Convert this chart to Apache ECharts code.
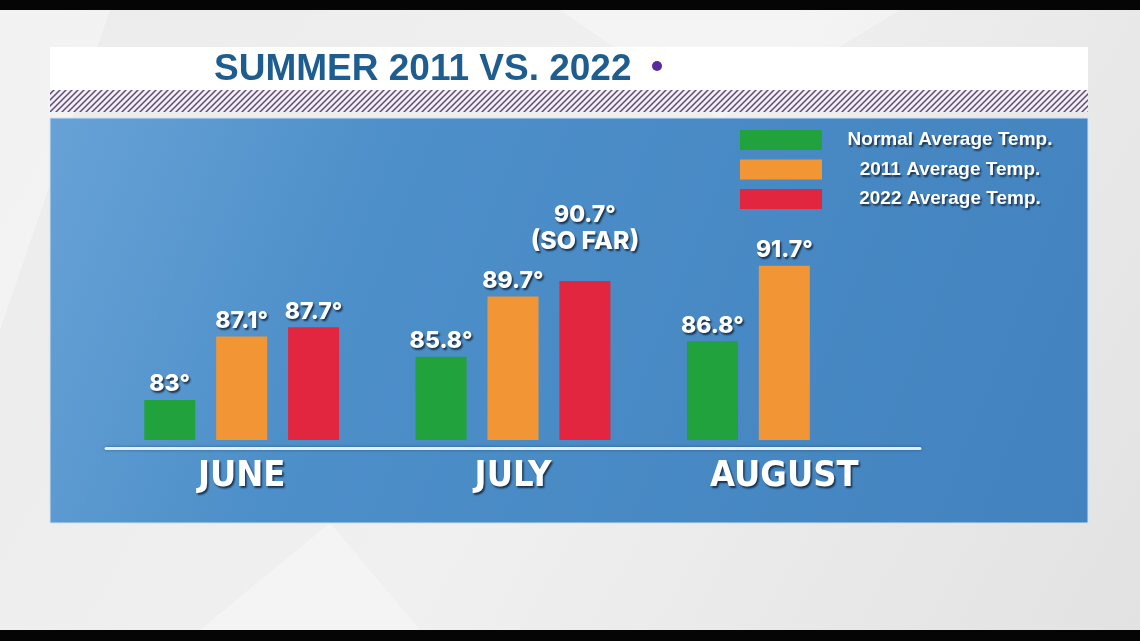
<!DOCTYPE html>
<html>
<head>
<meta charset="utf-8">
<script src="https://cdn.jsdelivr.net/npm/echarts@6/dist/echarts.min.js"></script>
<style>
html,body{margin:0;padding:0;background:#e9e9e9;}
#chart{width:1140px;height:641px;}
</style>
</head>
<body>
<div id="chart"></div>
<script>
// ---- data ----
const titleText = 'SUMMER 2011 VS. 2022';
const months = ['JUNE', 'JULY', 'AUGUST'];
const seriesNames = ['Normal Average Temp.', '2011 Average Temp.', '2022 Average Temp.'];
const normalTemp = [83, 85.8, 86.8];
const temp2011 = [87.1, 89.7, 91.7];
const temp2022 = [87.7, 90.7, null];
const notes2022 = ['', '(SO FAR)', ''];

// ---- styles ----
const colors = ['#21a23d', '#f29535', '#e3263f'];
const shadowText = {
  color: '#ffffff',
  textShadowColor: 'rgba(10,25,45,0.8)',
  textShadowBlur: 2,
  textShadowOffsetX: 1.5,
  textShadowOffsetY: 2
};

// hatch pattern
const pc = document.createElement('canvas');
pc.width = 6; pc.height = 6;
const pctx = pc.getContext('2d');
pctx.fillStyle = '#f3eef6';
pctx.fillRect(0, 0, 6, 6);
pctx.strokeStyle = '#5d4f70';
pctx.lineWidth = 1.5;
pctx.beginPath();
pctx.moveTo(-1, 7); pctx.lineTo(7, -1);
pctx.moveTo(-1, 1); pctx.lineTo(1, -1);
pctx.moveTo(5, 7); pctx.lineTo(7, 5);
pctx.stroke();

const chart = echarts.init(document.getElementById('chart'));

function labelFor(notes) {
  return function (p) {
    const n = notes ? notes[p.dataIndex] : '';
    return '{v|' + p.value + '°}' + (n ? '\n{n|' + n + '}' : '');
  };
}

function makeData(values, notes) {
  return values.map((v, i) => {
    if (notes && notes[i]) {
      return { value: v, label: { distance: 27 } };
    }
    return v;
  });
}

const fontBase = Object.assign({
  fontFamily: 'Inter',
  fontWeight: 800,
  fontSize: 23,
  lineHeight: 25
}, shadowText);

const valueLabel = Object.assign({
  show: true,
  position: 'top',
  distance: 3,
  rich: {
    v: Object.assign({}, fontBase),
    n: Object.assign({}, fontBase, { fontSize: 25, lineHeight: 26 })
  }
}, fontBase);

const seriesValues = [normalTemp, temp2011, temp2022];
const seriesNotes = [null, null, notes2022];

const option = {
  animation: false,
  backgroundColor: 'transparent',
  graphic: [
    { type: 'rect', shape: { x: 0, y: 0, width: 1140, height: 641 },
      style: { fill: new echarts.graphic.LinearGradient(0, 0, 1, 1, [
        { offset: 0, color: '#ececec' }, { offset: 0.5, color: '#f0f0f0' }, { offset: 1, color: '#e2e2e2' }]) } },
    { type: 'polygon', shape: { points: [[0, 10], [110, 10], [0, 330]] }, style: { fill: 'rgba(255,255,255,0.35)' } },
    { type: 'polygon', shape: { points: [[560, 10], [900, 10], [720, 120]] }, style: { fill: 'rgba(255,255,255,0.3)' } },
    { type: 'polygon', shape: { points: [[200, 630], [420, 630], [330, 523]] }, style: { fill: 'rgba(255,255,255,0.3)' } },
    { type: 'rect', shape: { x: 0, y: 0, width: 1140, height: 10 }, style: { fill: '#050505' } },
    { type: 'rect', shape: { x: 0, y: 630, width: 1140, height: 11 }, style: { fill: '#050505' } },
    { type: 'rect', shape: { x: 50, y: 47, width: 1038, height: 43 }, style: { fill: '#ffffff' } },
    { type: 'rect', shape: { x: 50, y: 90, width: 1038, height: 22 }, style: { fill: { image: pc, repeat: 'repeat' } } },
    { type: 'rect', shape: { x: 50, y: 118, width: 1038, height: 405 },
      style: { fill: new echarts.graphic.LinearGradient(0, 0, 1, 1, [
        { offset: 0, color: '#67a2d6' }, { offset: 0.3, color: '#4d8fc9' }, { offset: 1, color: '#4283bf' }]),
        stroke: '#cfe2f2', lineWidth: 1 } },
    { type: 'circle', shape: { cx: 657, cy: 66, r: 5 }, style: { fill: '#5a2a9e' } }
  ],
  title: {
    text: titleText,
    left: 214,
    top: 51,
    padding: 0,
    textStyle: {
      fontFamily: 'Liberation Sans',
      fontWeight: 'bold',
      fontSize: 37,
      lineHeight: 37,
      color: '#1e5d8f'
    }
  },
  legend: {
    orient: 'vertical',
    left: 740,
    top: 130,
    padding: 0,
    itemWidth: 82,
    itemHeight: 20,
    itemGap: 9.5,
    icon: 'rect',
    data: seriesNames,
    formatter: '{t|{name}}',
    textStyle: {
      rich: {
        t: Object.assign({
          width: 246,
          align: 'center',
          fontFamily: 'Liberation Sans',
          fontWeight: 'bold',
          fontSize: 19
        }, shadowText)
      }
    }
  },
  grid: { left: 106, right: 220, top: 261, bottom: 201 },
  xAxis: {
    type: 'category',
    data: months,
    offset: 8,
    axisLine: { show: true, lineStyle: { color: '#dcf1ff', width: 3, shadowColor: 'rgba(20,40,70,0.5)', shadowBlur: 3 } },
    axisTick: { show: false },
    axisLabel: Object.assign({
      margin: 11,
      fontFamily: ['DejaVu Sans Condensed', 'Liberation Sans'],
      fontWeight: 'bold',
      fontSize: 36,
      lineHeight: 36
    }, shadowText)
  },
  yAxis: {
    type: 'value',
    min: 80.4,
    max: 92,
    show: false,
    splitLine: { show: false }
  },
  series: seriesNames.map((name, k) => ({
    name: name,
    type: 'bar',
    barWidth: 51,
    barGap: '41%',
    itemStyle: { color: colors[k] },
    label: Object.assign({}, valueLabel, { formatter: labelFor(seriesNotes[k]) }),
    data: makeData(seriesValues[k], seriesNotes[k])
  }))
};

chart.setOption(option);
</script>
</body>
</html>
